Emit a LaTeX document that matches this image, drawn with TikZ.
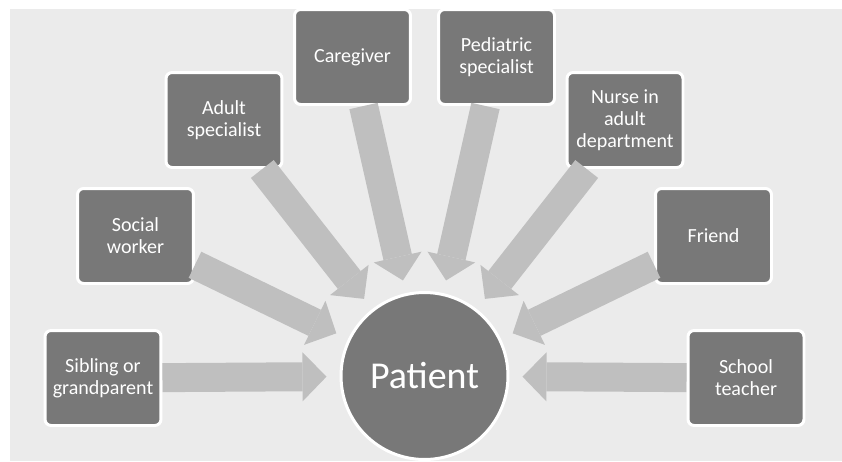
\documentclass[tikz,border=0pt]{standalone}
\usepackage{fontspec}
\setmainfont{Carlito}
\usetikzlibrary{arrows.meta, calc}
\definecolor{pgback}{HTML}{EBEBEB}
\definecolor{pgbox}{HTML}{787878}
\definecolor{pgarrow}{HTML}{BFBFBF}

\begin{document}
\begin{tikzpicture}[
  x=0.02cm, y=-0.02cm,
  every node/.style={text=white, font=\fontsize{11.4pt}{12.6pt}\selectfont},
  box/.style={rectangle, rounded corners=3.5pt, draw=white, fill=pgbox, line width=1.7pt, minimum width=2.32cm, minimum height=1.9cm, align=center, inner sep=0pt},
  hub/.style={circle, draw=white, fill=pgbox, line width=1.7pt, minimum size=3.34cm, inner sep=0pt, font=\fontsize{21.6pt}{24pt}\selectfont},
  arr/.style={pgarrow, line width=0.58cm, -{Triangle[length=0.48cm, width=0.98cm, line width=0pt]}, shorten >=0.26cm},
]

% Frame
\useasboundingbox (0, 0) rectangle (842, 461);
\fill[pgback] (10, 9) rectangle (842, 461);

% Centre
\node[hub] (pat) at (424.5, 376) {Patient};

% Left side
\node[box] (sib) at (103, 378) {Sibling or\\grandparent};
\node[box] (soc) at (135.5, 236) {Social\\worker};
\node[box] (adu) at (224, 120) {Adult\\specialist};
\node[box] (care) at (352.5, 57) {Caregiver};

% Right side
\node[box] (ped) at (496.5, 57) {Pediatric\\specialist};
\node[box] (nur) at (625, 120) {Nurse in\\adult\\department};
\node[box] (fri) at (713.5, 236) {Friend};
\node[box] (tea) at (746, 378) {School\\teacher};

% Arrows
\draw[arr] (sib) -- (pat);
\draw[arr] (soc) -- (pat);
\draw[arr] (adu) -- (pat);
\draw[arr] (care) -- (pat);
\draw[arr] (ped) -- (pat);
\draw[arr] (nur) -- (pat);
\draw[arr] (fri) -- (pat);
\draw[arr] (tea) -- (pat);

\end{tikzpicture}
\end{document}
